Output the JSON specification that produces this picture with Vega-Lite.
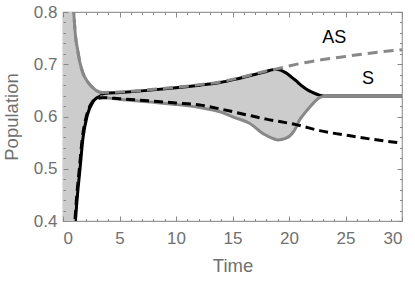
{
  "$schema": "https://vega.github.io/schema/vega-lite/v6.json",
  "width": 339,
  "height": 209,
  "autosize": "none",
  "padding": {"left": 63, "top": 12, "right": 13, "bottom": 63},
  "config": {
    "view": {"stroke": "#999999", "strokeWidth": 1.2},
    "font": "Liberation Sans",
    "axis": {"zindex": 1, "tickColor": "#888888", "tickWidth": 1}
  },
  "datasets": {
    "band": [
      {"t": 0, "lo": 0.0, "hi": 1.4},
      {"t": 0.5, "lo": 0.17, "hi": 1.0},
      {"t": 0.7, "lo": 0.26, "hi": 0.9},
      {"t": 0.95, "lo": 0.35, "hi": 0.8},
      {"t": 1.1, "lo": 0.4, "hi": 0.755},
      {"t": 1.3, "lo": 0.455, "hi": 0.727},
      {"t": 1.48, "lo": 0.494, "hi": 0.705},
      {"t": 1.77, "lo": 0.559, "hi": 0.683},
      {"t": 2.16, "lo": 0.603, "hi": 0.667},
      {"t": 2.65, "lo": 0.628, "hi": 0.655},
      {"t": 3.0, "lo": 0.636, "hi": 0.649},
      {"t": 3.3, "lo": 0.639, "hi": 0.646},
      {"t": 3.6, "lo": 0.637, "hi": 0.645},
      {"t": 5, "lo": 0.633, "hi": 0.646},
      {"t": 7.5, "lo": 0.628, "hi": 0.65},
      {"t": 10, "lo": 0.623, "hi": 0.655},
      {"t": 12.1, "lo": 0.617, "hi": 0.66},
      {"t": 13.9, "lo": 0.609, "hi": 0.665},
      {"t": 15.2, "lo": 0.598, "hi": 0.671},
      {"t": 16.5, "lo": 0.587, "hi": 0.678},
      {"t": 17.8, "lo": 0.566, "hi": 0.685},
      {"t": 18.7, "lo": 0.557, "hi": 0.69},
      {"t": 19.0, "lo": 0.555, "hi": 0.69},
      {"t": 19.7, "lo": 0.558, "hi": 0.684},
      {"t": 20.3, "lo": 0.568, "hi": 0.674},
      {"t": 20.7, "lo": 0.582, "hi": 0.667},
      {"t": 20.9, "lo": 0.592, "hi": 0.663},
      {"t": 21.3, "lo": 0.604, "hi": 0.656},
      {"t": 21.8, "lo": 0.617, "hi": 0.649},
      {"t": 22.3, "lo": 0.629, "hi": 0.644},
      {"t": 22.7, "lo": 0.636, "hi": 0.641},
      {"t": 23.3, "lo": 0.639, "hi": 0.639},
      {"t": 30, "lo": 0.639, "hi": 0.639}
    ],
    "hi": [
      {"t": 0, "v": 1.4}, {"t": 0.5, "v": 1.0}, {"t": 0.7, "v": 0.9}, {"t": 0.95, "v": 0.8},
      {"t": 1.1, "v": 0.755}, {"t": 1.3, "v": 0.727}, {"t": 1.48, "v": 0.705}, {"t": 1.77, "v": 0.683},
      {"t": 2.16, "v": 0.667}, {"t": 2.65, "v": 0.655}, {"t": 3.0, "v": 0.649}, {"t": 3.3, "v": 0.646},
      {"t": 3.6, "v": 0.645}
    ],
    "S": [
      {"t": 0, "v": 0.0}, {"t": 0.5, "v": 0.17}, {"t": 0.7, "v": 0.26}, {"t": 0.95, "v": 0.35},
      {"t": 1.1, "v": 0.4}, {"t": 1.3, "v": 0.455}, {"t": 1.48, "v": 0.494}, {"t": 1.77, "v": 0.559},
      {"t": 2.16, "v": 0.603}, {"t": 2.65, "v": 0.628}, {"t": 3.0, "v": 0.636}, {"t": 3.3, "v": 0.639},
      {"t": 3.6, "v": 0.644}, {"t": 5, "v": 0.646}, {"t": 7.5, "v": 0.65}, {"t": 10, "v": 0.655},
      {"t": 12.1, "v": 0.66}, {"t": 13.9, "v": 0.665}, {"t": 15.2, "v": 0.671}, {"t": 16.5, "v": 0.678},
      {"t": 17.8, "v": 0.685}, {"t": 18.7, "v": 0.69}, {"t": 19.0, "v": 0.69}, {"t": 19.7, "v": 0.684},
      {"t": 20.3, "v": 0.674}, {"t": 20.7, "v": 0.667}, {"t": 20.9, "v": 0.663}, {"t": 21.3, "v": 0.656},
      {"t": 21.8, "v": 0.649}, {"t": 22.3, "v": 0.644}, {"t": 22.7, "v": 0.641}, {"t": 23.3, "v": 0.639},
      {"t": 30, "v": 0.639}
    ],
    "lo": [
      {"t": 3.3, "v": 0.639}, {"t": 3.6, "v": 0.637}, {"t": 5, "v": 0.633}, {"t": 7.5, "v": 0.628},
      {"t": 10, "v": 0.623}, {"t": 12.1, "v": 0.617}, {"t": 13.9, "v": 0.609}, {"t": 15.2, "v": 0.598},
      {"t": 16.5, "v": 0.587}, {"t": 17.8, "v": 0.566}, {"t": 18.7, "v": 0.557}, {"t": 19.0, "v": 0.555},
      {"t": 19.7, "v": 0.558}, {"t": 20.3, "v": 0.568}, {"t": 20.7, "v": 0.582}, {"t": 20.9, "v": 0.592},
      {"t": 21.3, "v": 0.604}, {"t": 21.8, "v": 0.617}, {"t": 22.3, "v": 0.629}, {"t": 22.7, "v": 0.636},
      {"t": 23.3, "v": 0.639}, {"t": 30, "v": 0.639}
    ],
    "Sd": [
      {"t": 0.5, "v": 0.19}, {"t": 0.7, "v": 0.28}, {"t": 0.9, "v": 0.36}, {"t": 1.05, "v": 0.4},
      {"t": 1.24, "v": 0.455}, {"t": 1.42, "v": 0.494}, {"t": 1.71, "v": 0.559}, {"t": 2.1, "v": 0.603},
      {"t": 2.6, "v": 0.628}, {"t": 3.0, "v": 0.634}, {"t": 3.5, "v": 0.636}, {"t": 5, "v": 0.634},
      {"t": 7.5, "v": 0.63}, {"t": 10, "v": 0.626}, {"t": 12.1, "v": 0.622}, {"t": 14, "v": 0.614},
      {"t": 16.5, "v": 0.602}, {"t": 18, "v": 0.595}, {"t": 20.7, "v": 0.584}, {"t": 22.7, "v": 0.573},
      {"t": 25.4, "v": 0.563}, {"t": 27.5, "v": 0.556}, {"t": 30, "v": 0.549}
    ],
    "AS": [
      {"t": 0.5, "v": 1.0}, {"t": 0.7, "v": 0.9}, {"t": 0.95, "v": 0.8}, {"t": 1.1, "v": 0.755},
      {"t": 1.3, "v": 0.727}, {"t": 1.48, "v": 0.705}, {"t": 1.77, "v": 0.683}, {"t": 2.16, "v": 0.667},
      {"t": 2.65, "v": 0.655}, {"t": 3.0, "v": 0.649}, {"t": 3.5, "v": 0.646}, {"t": 5, "v": 0.647},
      {"t": 7.5, "v": 0.651}, {"t": 10, "v": 0.656}, {"t": 12.1, "v": 0.661}, {"t": 13.9, "v": 0.666},
      {"t": 15.2, "v": 0.672}, {"t": 16.5, "v": 0.679}, {"t": 17.8, "v": 0.686}, {"t": 18.7, "v": 0.69},
      {"t": 19.7, "v": 0.695}, {"t": 20.9, "v": 0.701}, {"t": 22.7, "v": 0.708}, {"t": 25, "v": 0.715},
      {"t": 27.5, "v": 0.722}, {"t": 30, "v": 0.728}
    ],
    "labels": [
      {"t": 24.0, "v": 0.75, "label": "AS"},
      {"t": 27.0, "v": 0.671, "label": "S"}
    ]
  },
  "layer": [
    {
      "data": {"name": "band"},
      "mark": {"type": "area", "color": "#cccccc", "opacity": 1, "clip": true, "interpolate": "monotone"},
      "encoding": {
        "x": {
          "field": "t", "type": "quantitative",
          "scale": {"domain": [0, 30], "nice": false},
          "axis": {
            "orient": "bottom", "title": "Time",
            "values": [0, 5, 10, 15, 20, 25, 30],
            "domain": false, "grid": false, "tickSize": -5, "zindex": 1,
            "labelFontSize": 17, "labelColor": "#707070", "labelPadding": 14, "labelFont": "Liberation Sans",
            "titleFontSize": 18.5, "titleColor": "#707070", "titleFontWeight": "normal", "titlePadding": 10, "titleFont": "Liberation Sans",
            "labelOverlap": false
          }
        },
        "y": {
          "field": "lo", "type": "quantitative",
          "scale": {"domain": [0.4, 0.8], "nice": false, "zero": false},
          "axis": {
            "orient": "left", "title": "Population",
            "values": [0.4, 0.5, 0.6, 0.7, 0.8],
            "format": ".1f",
            "domain": false, "grid": false, "tickSize": -5, "zindex": 1,
            "labelFontSize": 17, "labelColor": "#707070", "labelPadding": 11, "labelFont": "Liberation Sans",
            "titleFontSize": 18.5, "titleColor": "#707070", "titleFontWeight": "normal", "titlePadding": 12, "titleFont": "Liberation Sans",
            "labelOverlap": false
          }
        },
        "y2": {"field": "hi"}
      }
    },
    {
      "data": {"name": "hi"},
      "mark": {"type": "line", "color": "#888888", "strokeWidth": 3, "clip": true, "interpolate": "monotone"},
      "encoding": {
        "x": {
          "field": "t", "type": "quantitative",
          "scale": {"domain": [0, 30], "nice": false},
          "axis": {
            "orient": "top", "title": null, "labels": false,
            "values": [0, 5, 10, 15, 20, 25, 30],
            "domain": false, "grid": false, "tickSize": -5, "zindex": 1
          }
        },
        "y": {
          "field": "v", "type": "quantitative",
          "scale": {"domain": [0.4, 0.8], "nice": false, "zero": false},
          "axis": {
            "orient": "right", "title": null, "labels": false,
            "values": [0.4, 0.5, 0.6, 0.7, 0.8],
            "domain": false, "grid": false, "tickSize": -5, "zindex": 1
          }
        }
      }
    },
    {
      "data": {"name": "S"},
      "mark": {"type": "line", "color": "#000000", "strokeWidth": 3, "clip": true, "interpolate": "monotone"},
      "encoding": {
        "x": {
          "field": "t", "type": "quantitative", "scale": {"domain": [0, 30], "nice": false},
          "axis": {
            "orient": "bottom", "title": null, "labels": false,
            "values": [1,2,3,4,6,7,8,9,11,12,13,14,16,17,18,19,21,22,23,24,26,27,28,29],
            "domain": false, "grid": false, "tickSize": -2.5, "zindex": 1
          }
        },
        "y": {
          "field": "v", "type": "quantitative", "scale": {"domain": [0.4, 0.8], "nice": false, "zero": false},
          "axis": {
            "orient": "left", "title": null, "labels": false,
            "values": [0.42,0.44,0.46,0.48,0.52,0.54,0.56,0.58,0.62,0.64,0.66,0.68,0.72,0.74,0.76,0.78],
            "domain": false, "grid": false, "tickSize": -2.5, "zindex": 1
          }
        }
      }
    },
    {
      "data": {"name": "lo"},
      "mark": {"type": "line", "color": "#888888", "strokeWidth": 3, "clip": true, "interpolate": "monotone"},
      "encoding": {
        "x": {
          "field": "t", "type": "quantitative", "scale": {"domain": [0, 30], "nice": false},
          "axis": {
            "orient": "top", "title": null, "labels": false,
            "values": [1,2,3,4,6,7,8,9,11,12,13,14,16,17,18,19,21,22,23,24,26,27,28,29],
            "domain": false, "grid": false, "tickSize": -2.5, "zindex": 1
          }
        },
        "y": {
          "field": "v", "type": "quantitative", "scale": {"domain": [0.4, 0.8], "nice": false, "zero": false},
          "axis": {
            "orient": "right", "title": null, "labels": false,
            "values": [0.42,0.44,0.46,0.48,0.52,0.54,0.56,0.58,0.62,0.64,0.66,0.68,0.72,0.74,0.76,0.78],
            "domain": false, "grid": false, "tickSize": -2.5, "zindex": 1
          }
        }
      }
    },
    {
      "data": {"name": "Sd"},
      "mark": {"type": "line", "color": "#000000", "strokeWidth": 3, "strokeDash": [9, 5], "clip": true, "interpolate": "monotone"},
      "encoding": {
        "x": {"field": "t", "type": "quantitative", "scale": {"domain": [0, 30], "nice": false}, "axis": null},
        "y": {"field": "v", "type": "quantitative", "scale": {"domain": [0.4, 0.8], "nice": false, "zero": false}, "axis": null}
      }
    },
    {
      "data": {"name": "AS"},
      "mark": {"type": "line", "color": "#888888", "strokeWidth": 3, "strokeDash": [10, 6], "clip": true, "interpolate": "monotone"},
      "encoding": {
        "x": {"field": "t", "type": "quantitative", "scale": {"domain": [0, 30], "nice": false}, "axis": null},
        "y": {"field": "v", "type": "quantitative", "scale": {"domain": [0.4, 0.8], "nice": false, "zero": false}, "axis": null}
      }
    },
    {
      "data": {"name": "labels"},
      "mark": {"type": "text", "color": "#000000", "fontSize": 18, "font": "Liberation Sans", "align": "center", "baseline": "middle"},
      "encoding": {
        "x": {"field": "t", "type": "quantitative", "scale": {"domain": [0, 30], "nice": false}, "axis": null},
        "y": {"field": "v", "type": "quantitative", "scale": {"domain": [0.4, 0.8], "nice": false, "zero": false}, "axis": null},
        "text": {"field": "label"}
      }
    }
  ],
  "resolve": {"axis": {"x": "independent", "y": "independent"}}
}
